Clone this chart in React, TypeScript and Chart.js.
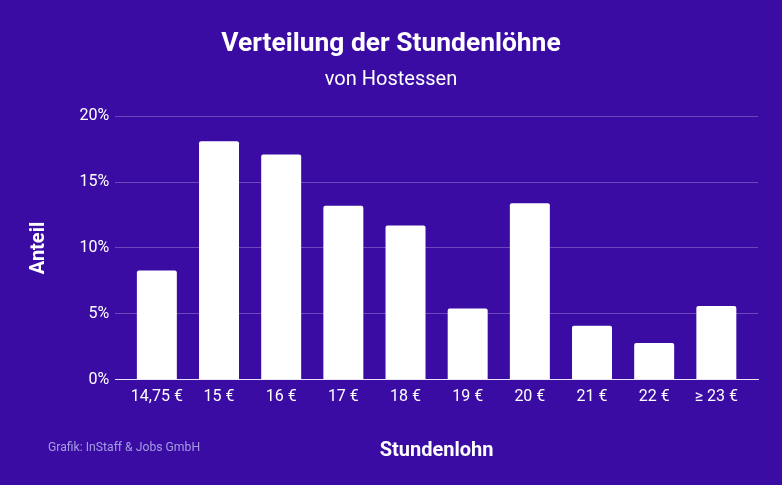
import React, { useEffect, useRef } from "react";
import { Chart, registerables } from "chart.js";

Chart.register(...registerables);

const categories = ["14,75 €", "15 €", "16 €", "17 €", "18 €", "19 €", "20 €", "21 €", "22 €", "≥ 23 €"];
const shares = [8.3, 18.1, 17.1, 13.2, 11.7, 5.4, 13.4, 4.1, 2.8, 5.6];
const yTicks = [0, 5, 10, 15, 20];

const BG = "#3a0ca3";
const FONT = "Roboto";

const footerPlugin = {
  id: "footerText",
  afterDraw(chart: any) {
    const ctx = chart.ctx;
    ctx.save();
    ctx.font = `12.2px ${FONT}`;
    ctx.fillStyle = "#a59ce0";
    ctx.textAlign = "left";
    ctx.textBaseline = "middle";
    ctx.fillText("Grafik: InStaff & Jobs GmbH", 48, 448);
    ctx.restore();
  },
};

export default function App() {
  const ref = useRef<HTMLCanvasElement | null>(null);
  useEffect(() => {
    if (!ref.current) return;
    const points = shares.map((v, i) => ({ x: i, y: v }));
    const chart = new Chart(ref.current, {
      type: "bar",
      data: {
        datasets: [
          {
            data: points,
            backgroundColor: "#ffffff",
            borderRadius: 2,
            borderSkipped: "bottom",
            categoryPercentage: 1,
            barPercentage: 0.643,
          },
        ],
      },
      options: {
        animation: false,
        responsive: false,
        maintainAspectRatio: false,
        layout: { padding: { left: 0, right: 0, top: 0, bottom: 22 } },
        plugins: {
          legend: { display: false },
          tooltip: { enabled: false },
          title: {
            display: true,
            text: "Verteilung der Stundenlöhne",
            color: "#ffffff",
            font: { family: FONT, size: 26.4, weight: "bold" },
            padding: { top: 29, bottom: 4 },
          },
          subtitle: {
            display: true,
            text: "von Hostessen",
            color: "#ffffff",
            font: { family: FONT, size: 20 },
            padding: { top: 3, bottom: 24.5 },
          },
        },
        scales: {
          x: {
            type: "linear",
            min: -0.67,
            max: categories.length - 1 + 0.67,
            offset: false,
            afterBuildTicks(scale: any) {
              scale.ticks = categories.map((_, i) => ({ value: i }));
            },
            grid: { display: false, drawTicks: false, offset: false },
            border: { display: true, color: "rgba(255,255,255,0.85)", width: 1 },
            ticks: {
              color: "#ffffff",
              font: { family: FONT, size: 16 },
              padding: 8,
              maxRotation: 0,
              autoSkip: false,
              callback: (v: any) => categories[v] ?? "",
            },
            title: {
              display: true,
              text: "Stundenlohn",
              color: "#ffffff",
              font: { family: FONT, size: 20, weight: "bold" },
              padding: { top: 24, bottom: 0 },
            },
          },
          y: {
            min: 0,
            max: 20,
            afterBuildTicks(scale: any) {
              scale.ticks = yTicks.map((v) => ({ value: v }));
            },
            grid: { color: "rgba(255,255,255,0.25)", drawTicks: false },
            border: { display: false },
            ticks: {
              color: "#ffffff",
              font: { family: FONT, size: 16 },
              padding: 6,
              callback: (v: any) => `${v}%`,
            },
            title: {
              display: true,
              text: "Anteil",
              color: "#ffffff",
              font: { family: FONT, size: 20, weight: "bold" },
              padding: { top: 27, bottom: 22.5 },
            },
          },
          spacer: {
            type: "linear",
            position: "right",
            display: true,
            grid: { display: false, drawTicks: false },
            border: { display: false },
            ticks: { display: false },
            afterFit(scale: any) {
              scale.width = 24;
            },
          },
        },
      },
      plugins: [footerPlugin],
    });
    return () => chart.destroy();
  }, []);
  return (
    <div style={{ position: "fixed", left: 0, top: 0, width: 782, height: 485, background: BG }}>
      <canvas ref={ref} width={782} height={485} style={{ width: 782, height: 485 }} />
    </div>
  );
}
